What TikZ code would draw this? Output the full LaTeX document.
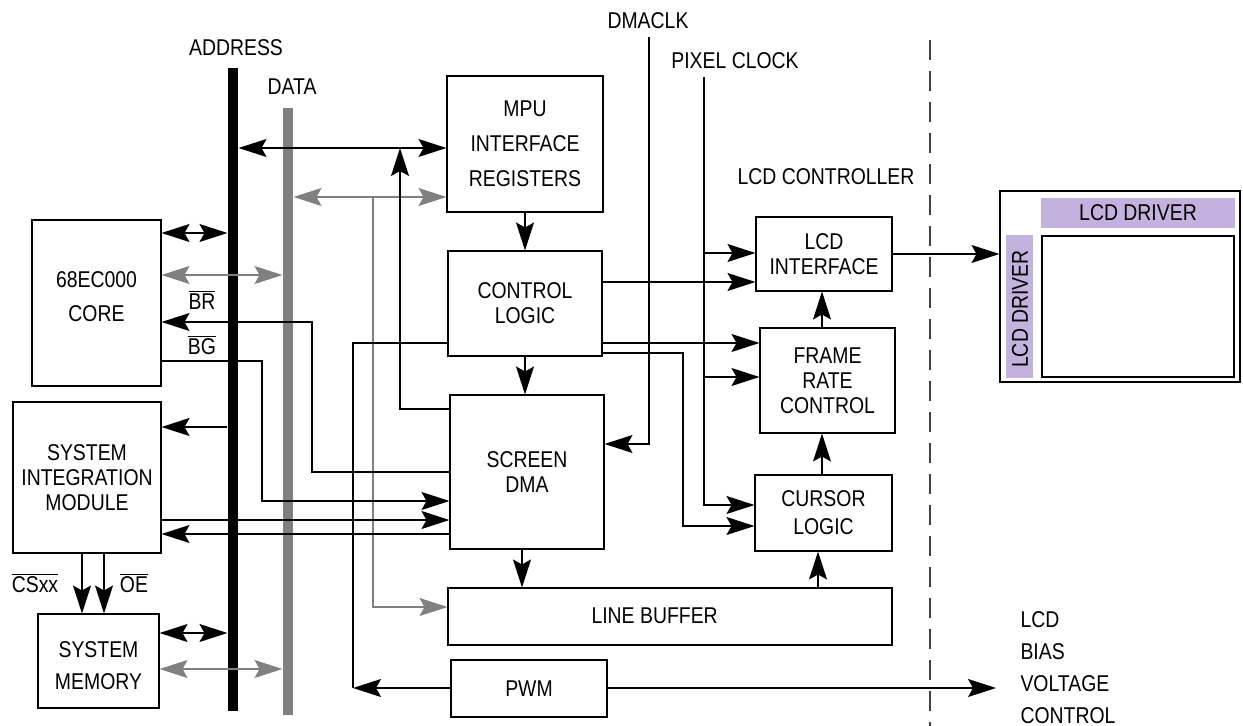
\documentclass[tikz,border=0pt]{standalone}
\usepackage{fontspec}
\setmainfont[FakeStretch=0.85]{Liberation Sans}
\usetikzlibrary{arrows.meta,fit,positioning}
\definecolor{lcdpurple}{RGB}{196,178,222}

\tikzset{
  blk/.style={draw, inner sep=0pt},
  txt/.style={label={[align=center]center:{#1}}},
  bus/.style={fill=#1, inner sep=0pt},
  arr/.style={-{Stealth[length=5.6mm,width=3.6mm,inset=1mm]}},
  darr/.style={{Stealth[length=5.6mm,width=3.6mm,inset=1mm]}-{Stealth[length=5.6mm,width=3.6mm,inset=1mm]}}
}

\begin{document}
\begin{tikzpicture}[x=0.02cm, y=-0.02cm, inner sep=0pt, line width=0.6pt, font=\fontsize{13}{14.2}\selectfont]
	\useasboundingbox (0,0) rectangle (1243,726);
	% buses
	\node[bus=black, fit={(228,68)(238,711)}] (addr) {};
	\node[bus=gray, fit={(283,108)(293,715)}] (data) {};
	\node (addrlbl) at (236,48) {ADDRESS};
	\node (datalbl) at (292,87) {DATA};
	% blocks
	\node[blk, fit={(32,220)(161,386)}, label={[align=center, yshift=0.12cm]center:{68EC000\\[0.18cm]CORE}}] (cpu) {};
	\node[blk, fit={(13,402)(161,553)}, txt={SYSTEM\\INTEGRATION\\MODULE}] (sim) {};
	\node[blk, fit={(38,614)(159,708)}, label={[align=center, yshift=-0.1cm]center:{SYSTEM\\[0.14cm]MEMORY}}] (mem) {};
	\node[blk, fit={(447,76)(603,212)}, txt={MPU\\[0.2cm]INTERFACE\\[0.2cm]REGISTERS}] (mpu) {};
	\node[blk, fit={(448,251)(602,356)}, txt={CONTROL\\LOGIC}] (ctrl) {};
	\node[blk, fit={(450,395)(604,549)}, txt={SCREEN\\DMA}] (dma) {};
	\node[blk, fit={(448,588)(892,645)}] (lbuf) {};
	\node[anchor=west] (lbtxt) at (591,616) {LINE BUFFER};
	\node[blk, fit={(451,660)(607,717)}, txt=PWM] (pwm) {};
	\node[blk, fit={(756,217)(892,291)}, txt={LCD\\INTERFACE}] (lcdif) {};
	\node[blk, fit={(760,328)(895,433)}, txt={FRAME\\RATE\\CONTROL}] (frc) {};
	\node[blk, fit={(755,475)(892,551)}, txt={CURSOR\\[0.06cm]LOGIC}] (cur) {};
	\node (dmaclk) at (648,21) {DMACLK};
	\node (pixclk) at (735,61) {PIXEL CLOCK};
	\node (lcdctl) at (826,177) {LCD CONTROLLER};
	\node[anchor=west, align=left] (bias) at (1020,668) {LCD\\[0.14cm]BIAS\\[0.14cm]VOLTAGE\\[0.14cm]CONTROL};
	\draw[dash pattern=on 0.4cm off 0.22cm, black!75] (930,40) -- (930,726);
	% LCD panel
	\node[draw, fit={(1000,191)(1240,382)}] (panel) {};
	\node[fill=lcdpurple, fit={(1041,198)(1235,228)}, txt={LCD DRIVER}] (drvtop) {};
	\node[fill=lcdpurple, fit={(1006,235)(1033,378)}] (drvleft) {};
	\node[rotate=90] (drvlefttxt) at (1020,309) {LCD DRIVER};
	\node[draw, line width=1pt, fit={(1042,236)(1234,377)}] (screen) {};
	% signal labels
	\node (br) at (202,300) {$\overline{\mbox{BR}}$};
	\node (bg) at (202,345) {$\overline{\mbox{BG}}$};
	\node (cs) at (35,583) {$\overline{\mbox{CSxx}}$};
	\node (oe) at (134,583) {$\overline{\mbox{OE}}$};
	\coordinate (atap) at (400,148);
	\coordinate (gtap) at (373,197);
	\coordinate (pwmtap) at (353,688);
	\coordinate (pclk) at (704,77);
	\coordinate (dclk) at (649,37);
	\coordinate (biastip) at (996,688);
	% MPU side
	\draw[darr] (addr.east |- atap) -- (mpu.west |- atap);
	\draw[darr, gray] (data.east |- gtap) -- (mpu.west |- gtap);
	\draw[arr, gray] (gtap) |- (lbuf.west |- 0,607);
	\draw[arr] (dma.west |- 0,409) -| (atap);
	\draw[arr] (mpu) -- (ctrl);
	\draw[arr] (ctrl.south) -- (ctrl.south |- dma.north);
	\draw[arr] (dma.south -| 522,0) -- (lbuf.north -| 522,0);
	\draw[arr] (ctrl.east |- 0,282) -- (lcdif.west |- 0,282);
	\draw[arr] (ctrl.east |- 0,343) -- (frc.west |- 0,343);
	\draw[arr] (ctrl.east |- 0,353) -| (683,526) -- (cur.west |- 0,526);
	\draw (ctrl.west |- 0,343) -| (pwmtap);
	\draw[arr] (pwm.west |- pwmtap) -- (pwmtap);
	\draw[arr] (pwm.east |- biastip) -- (biastip);
	% clocks
	\draw[arr] (pclk) |- (cur.west |- 0,505);
	\draw[arr] (pclk |- 0,253) -- (lcdif.west |- 0,253);
	\draw[arr] (pclk |- 0,377) -- (frc.west |- 0,377);
	\draw[arr] (dclk) |- (dma.east |- 0,444);
	\draw[arr] (frc.north -| 822,0) -- (lcdif.south -| 822,0);
	\draw[arr] (cur.north -| 822,0) -- (frc.south -| 822,0);
	\draw[arr] (lbuf.north -| 818,0) -- (cur.south -| 818,0);
	\draw[arr] (lcdif.east |- 0,254) -- (panel.west |- 0,254);
	% CPU side
	\draw[darr] (cpu.east |- 0,233) -- (addr.west |- 0,233);
	\draw[darr, gray] (cpu.east |- 0,275) -- (data.west |- 0,275);
	\draw[arr] (dma.west |- 0,472) -| (312,322) -- (cpu.east |- 0,322);
	\draw[arr] (cpu.east |- 0,361) -| (262,501) -- (dma.west |- 0,501);
	\draw[arr] (addr.west |- 0,427) -- (sim.east |- 0,427);
	\draw[arr] (sim.east |- 0,520) -- (dma.west |- 0,520);
	\draw[arr] (dma.west |- 0,534) -- (sim.east |- 0,534);
	\draw[arr] (sim.south -| 82,0) -- (mem.north -| 82,0);
	\draw[arr] (sim.south -| 104,0) -- (mem.north -| 104,0);
	\draw[darr] (mem.east |- 0,633) -- (addr.west |- 0,633);
	\draw[darr, gray] (mem.east |- 0,669) -- (data.west |- 0,669);
\end{tikzpicture}
\end{document}
